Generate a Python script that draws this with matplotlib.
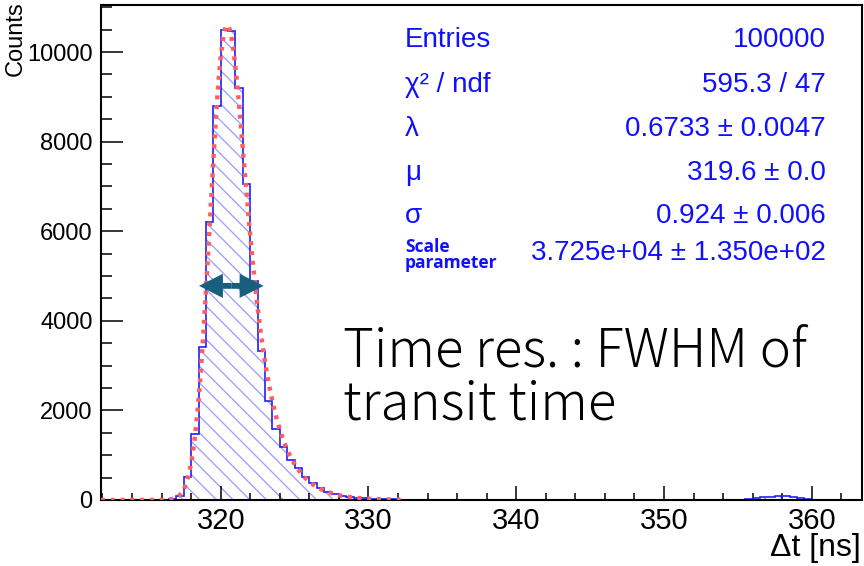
import math
import numpy as np
import matplotlib.pyplot as plt
from matplotlib.ticker import MultipleLocator

plt.rcParams['font.family'] = ['Liberation Sans', 'DejaVu Sans']
plt.rcParams['hatch.linewidth'] = 0.9

# histogram: 0.5 ns bins starting at 312 ns
bin_lo = 312.0
bin_w = 0.5
counts = [0, 0, 1, 1, 2, 3, 4, 6, 10, 25,                          # 312 - 316.5
          90, 520, 1470, 3420, 6210, 8800, 10490, 10480, 9190, 7050,  # 317 - 321.5
          4890, 3330, 2210, 1590, 1190, 893, 707, 521, 372, 260,      # 322 - 326.5
          186, 134, 89, 60, 45, 35, 25, 20, 15, 12,                   # 327 - 331.5
          10, 9, 8, 8, 7, 7, 7, 6, 6, 6,                              # 332 - 336.5
          6, 5, 5, 5, 5, 5, 5, 4, 4, 4,                               # 337 - 341.5
          4, 4, 4, 4, 4, 4, 4, 4, 4, 4,                               # 342 - 346.5
          4, 4, 4, 4, 4, 4, 4, 4, 4, 4,                               # 347 - 351.5
          4, 4, 4, 4, 5, 5, 8, 15,                                    # 352 - 355.5
          40, 60, 72, 80, 80, 72, 55, 30, 8,                          # 356 - 360
          5, 4, 4, 4, 4, 4]                                           # 360.5 - 363
edges = bin_lo + bin_w * np.arange(len(counts) + 1)

# fit parameters (exp. modified gaussian) as shown in the stats box
lam = 0.6733
mu = 319.6
sigma = 0.924
scale = 3.725e4
fit_range = (311.9, 332.2)

stat_labels = ['Entries', 'χ² / ndf', 'λ', 'μ', 'σ']
stat_values = ['100000', '595.3 / 47', '0.6733 ± 0.0047', '319.6 ± 0.0',
               '0.924 ± 0.006', '3.725e+04 ± 1.350e+02']

# FWHM arrow (data coords)
arrow_x = (318.53, 322.9)
arrow_y = 4780


def emg(x):
    a = lam * sigma**2
    return [scale * lam / 2 * math.exp(lam / 2 * (2 * mu + a - 2 * v))
            * math.erfc((mu + a - v) / (math.sqrt(2) * sigma)) for v in x]


fig = plt.figure(figsize=(8.64, 5.66), dpi=100)
ax = fig.add_axes([101 / 864, 66 / 566, 761 / 864, 495 / 566])

ax.stairs(counts, edges, fill=True, facecolor='none', edgecolor='#9a9aff',
          linewidth=0, hatch='\\\\', zorder=1)
ax.stairs(counts, edges, color='#1f1fff', linewidth=1.2, zorder=2)

xf = np.linspace(fit_range[0], fit_range[1], 400)
ax.plot(xf, emg(xf), color='#ff5e5e', linewidth=3.2, linestyle=(0, (0.9, 1.3)),
        zorder=3)

xm = (arrow_x[0] + arrow_x[1]) / 2
for x_end in arrow_x:
    ax.arrow(xm, arrow_y, x_end - xm, 0, width=130, head_width=540,
             head_length=1.62, length_includes_head=True, color='#17607d',
             linewidth=0, zorder=4)

ax.set_xlim(311.9, 363.4)
ax.set_ylim(0, 11050)
ax.xaxis.set_major_locator(MultipleLocator(10))
ax.xaxis.set_minor_locator(MultipleLocator(2))
ax.yaxis.set_major_locator(MultipleLocator(2000))
ax.yaxis.set_minor_locator(MultipleLocator(500))
ax.tick_params(axis='x', which='major', direction='in', length=10, width=1.1,
               labelsize=21, pad=5)
ax.tick_params(axis='x', which='minor', direction='in', length=5, width=1.1)
ax.tick_params(axis='y', which='major', direction='in', length=16, width=1.1,
               labelsize=17, pad=6)
ax.tick_params(axis='y', which='minor', direction='in', length=8, width=1.1)
for s in ax.spines.values():
    s.set_linewidth(1.5)

fig.text(5 / 864, 1 - 1 / 566, 'Counts', rotation=90, ha='left', va='top',
         fontsize=17)
fig.text(861 / 864, 1 - 556 / 566, 'Δt [ns]', ha='right', va='baseline',
         fontsize=23)

# stats box
rows_y = [47.3, 91.5, 136, 180, 223.3]
blue = '#1010ff'
for lab, yy in zip(stat_labels, rows_y):
    fig.text(405 / 864, 1 - yy / 566, lab, ha='left', va='baseline',
             fontsize=20, color=blue)
for val, yy in zip(stat_values, rows_y + [260]):
    fig.text(826 / 864, 1 - yy / 566, val, ha='right', va='baseline',
             fontsize=20, color=blue)
fig.text(405 / 864, 1 - 251.5 / 566, 'Scale', ha='left', va='baseline',
         fontsize=12.5, color=blue, family=['Open Sans', 'DejaVu Sans'],
         weight='bold')
fig.text(405 / 864, 1 - 268.5 / 566, 'parameter', ha='left', va='baseline',
         fontsize=12.5, color=blue, family=['Open Sans', 'DejaVu Sans'],
         weight='bold')

fig.text(343 / 864, 1 - 366.7 / 566, 'Time res. : FWHM of', ha='left',
         va='baseline', fontsize=38, family=['Noto Sans CJK JP', 'DejaVu Sans'],
         weight='light')
fig.text(343 / 864, 1 - 420 / 566, 'transit time', ha='left',
         va='baseline', fontsize=38, family=['Noto Sans CJK JP', 'DejaVu Sans'],
         weight='light')

fig.savefig('out.png', dpi=100)
